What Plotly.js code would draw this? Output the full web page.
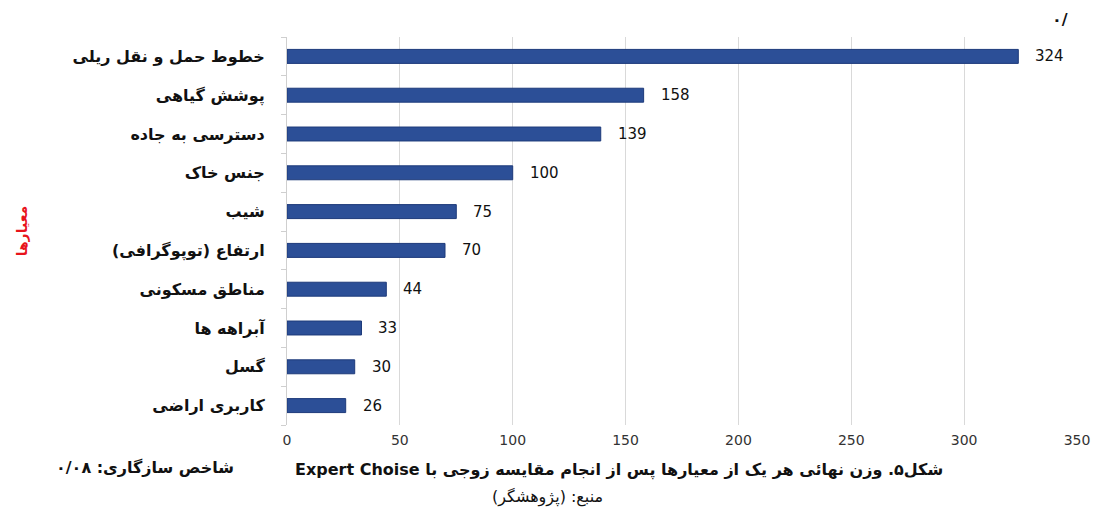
<!DOCTYPE html>
<html>
<head>
<meta charset="utf-8">
<script src="https://cdn.plot.ly/plotly-3.0.1.min.js"></script>
<style>html,body{margin:0;padding:0;background:#fff;}#chart{width:1100px;height:515px;}</style>
</head>
<body>
<div id="chart"></div>
<script>
const categories = [
  "کاربری اراضی",
  "گسل",
  "آبراهه ها",
  "مناطق مسکونی",
  "ارتفاع (توپوگرافی)",
  "شیب",
  "جنس خاک",
  "دسترسی به جاده",
  "پوشش گیاهی",
  "خطوط حمل و نقل ریلی"
];
const values = [26, 30, 33, 44, 70, 75, 100, 139, 158, 324];
const xTicks = [0, 50, 100, 150, 200, 250, 300, 350];

const arabicFont = "DejaVu Sans, Noto Sans, sans-serif";
const RLE = "\u202B", PDF = "\u202C";

const trace = {
  type: "bar",
  orientation: "h",
  y: categories,
  x: values,
  marker: {color: "#2c4f97", line: {color: "#1d3a7a", width: 1}},
  hoverinfo: "none"
};

const annotations = values.map((v, i) => ({
  x: v, y: categories[i], xref: "x", yref: "y",
  text: String(v), showarrow: false, xanchor: "left", xshift: 15,
  font: {family: "DejaVu Sans, sans-serif", size: 15, color: "#111"}
}));

annotations.push(
  {xref: "paper", yref: "paper", x: -0.335, xanchor: "center", y: 0.5, yanchor: "middle",
   text: "<b>معیارها</b>", textangle: -90,
   showarrow: false, font: {family: arabicFont, size: 14, color: "#e8141b"}},
  {xref: "paper", yref: "paper", x: 0.978, y: 1.075, xanchor: "center", text: "<b>۰/</b>",
   showarrow: false, font: {family: arabicFont, size: 16, color: "#111"}},
  {xref: "paper", yref: "paper", x: -0.18, y: -0.11, xanchor: "center", yanchor: "middle",
   text: "<b>" + RLE + "شاخص سازگاری: ۰/۰۸" + PDF + "</b>",
   showarrow: false, font: {family: arabicFont, size: 16, color: "#111"}},
  {xref: "paper", yref: "paper", x: 0.42, y: -0.115, xanchor: "center", yanchor: "middle",
   text: "<b>" + RLE + "شکل۵. وزن نهائی هر یک از معیارها پس از انجام مقایسه زوجی با Expert Choise" + PDF + "</b>",
   showarrow: false, font: {family: arabicFont, size: 16, color: "#111"}},
  {xref: "paper", yref: "paper", x: 0.33, y: -0.185, xanchor: "center", yanchor: "middle",
   text: RLE + "منبع: (پژوهشگر)" + PDF,
   showarrow: false, font: {family: arabicFont, size: 16, color: "#111"}}
);

const layout = {
  width: 1100, height: 515,
  margin: {l: 287, r: 23, t: 37, b: 90},
  paper_bgcolor: "#fff", plot_bgcolor: "#fff",
  bargap: 0.64,
  showlegend: false,
  xaxis: {
    range: [0, 350], tickvals: xTicks, ticktext: xTicks.map(String),
    showgrid: true, gridcolor: "#d9d9d9", gridwidth: 1,
    zeroline: false, showline: false, ticks: "",
    ticklabelstandoff: 5,
    tickfont: {family: "DejaVu Sans, sans-serif", size: 14, color: "#333"}
  },
  yaxis: {
    type: "category", categoryorder: "array", categoryarray: categories,
    showline: true, linecolor: "#cfcfcf", linewidth: 1,
    ticks: "outside", tickson: "boundaries", ticklen: 5, tickcolor: "#cfcfcf",
    ticklabelstandoff: 18,
    tickfont: {family: arabicFont, size: 16, color: "#111", weight: "bold"},
    showgrid: false, zeroline: false
  },
  annotations: annotations
};

Plotly.newPlot("chart", [trace], layout, {displayModeBar: false, staticPlot: true});
</script>
</body>
</html>
